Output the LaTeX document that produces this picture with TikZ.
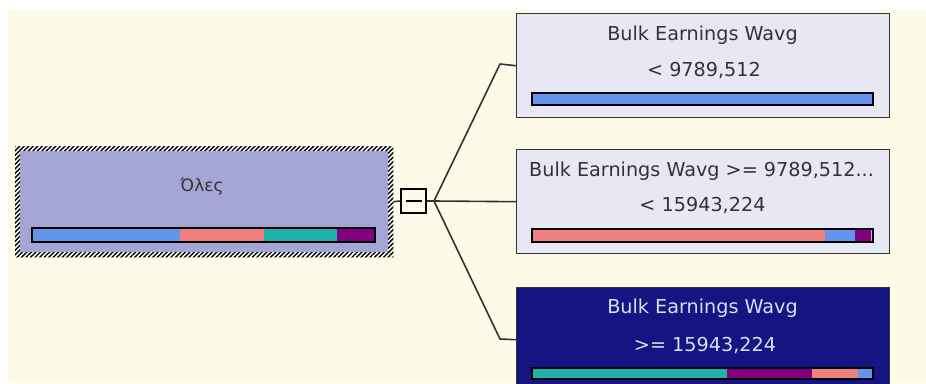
\documentclass[tikz,border=0pt]{standalone}
\usepackage{fontspec}
\setmainfont{DejaVu Sans}
\usetikzlibrary{patterns.meta}
\definecolor{cream}{HTML}{FDFAE8}
\definecolor{lightfill}{HTML}{E8E8F4}
\definecolor{rootfill}{HTML}{A5A5D5}
\definecolor{darkfill}{HTML}{141482}
\definecolor{txtgray}{HTML}{333333}
\definecolor{txtlight}{HTML}{DCDCF0}
\definecolor{cblue}{HTML}{6495ED}
\definecolor{csalmon}{HTML}{F08080}
\definecolor{cteal}{HTML}{20B2AA}
\definecolor{cpurple}{HTML}{800080}
\definecolor{edgegray}{HTML}{333333}
\tikzset{
  boxbase/.style={anchor=north west, inner sep=0pt, minimum width=373pt, minimum height=104pt},
  lbox/.style={boxbase, draw=edgegray, line width=1.4pt, fill=lightfill},
  dbox/.style={boxbase, draw=edgegray, line width=1.4pt, fill=darkfill},
  lbl/.style={anchor=base, inner sep=0pt, text=txtgray, font=\fontsize{19.2}{23}\selectfont},
  dlbl/.style={lbl, text=txtlight},
  conn/.style={draw=edgegray, line width=1.6pt, line join=round},
  barframe/.style={draw=black, line width=1.4pt},
}
\begin{document}
\begin{tikzpicture}[x=1pt,y=-1pt]
\clip (0,0) rectangle (926,383);
\fill[white] (0,0) rectangle (926,383);
\fill[cream] (8,10) rectangle (926,383);

% root node
\node[anchor=north west, inner sep=0pt, minimum width=378pt, minimum height=111pt, fill=rootfill] (root) at (15,146) {};
\fill[white, even odd rule] (root.north west) rectangle (root.south east) (20,151) rectangle (388,252);
\fill[pattern={Lines[angle=45,distance=3.2pt,line width=1.4pt]}, pattern color=black, even odd rule]
  (root.north west) rectangle (root.south east) (20,151) rectangle (388,252);
\node[lbl, font=\fontsize{17}{20}\selectfont] (roottxt) at (202,191) {Όλες};
\fill[cblue] (32,228) rectangle (180,242);
\fill[csalmon] (180,228) rectangle (264,242);
\fill[cteal] (264,228) rectangle (337,242);
\fill[cpurple] (337,228) rectangle (375,242);
\draw[barframe] (32,228) rectangle (375,242);

% expander
\node[anchor=center, inner sep=0pt, minimum width=25pt, minimum height=24pt, draw=black, line width=1.2pt, fill=cream] (exp) at (413.5,201) {};
\draw[black, line width=1.2pt] ([xshift=-8pt]exp.center) -- ([xshift=8pt]exp.center);
\coordinate (fan) at (434,201);
\coordinate (k1) at (500,64);
\coordinate (k3) at (500,339);

% child boxes
\node[lbox] (b1) at (516,13) {};
\node[lbox] (b2) at (516,149) {};
\node[dbox] (b3) at (516,287) {};

% connectors
\draw[conn] (root.east) -- (exp.west);
\draw[conn] (exp.east) -- (fan);
\draw[conn] (fan) -- (k1) -- (b1.west);
\draw[conn] (fan) -- (b2.west);
\draw[conn] (fan) -- (k3) -- (b3.west);

% box 1
\node[lbl] (b1t1) at (702.5,40) {Bulk Earnings Wavg};
\node[lbl] (b1t2) at (704,76.5) {< 9789,512};
\fill[cblue] (532,93) rectangle (873,105);
\draw[barframe] (532,93) rectangle (873,105);

% box 2
\node[lbl] (b2t1) at (701.5,176) {Bulk Earnings Wavg >= 9789,512...};
\node[lbl] (b2t2) at (702.5,211.5) {< 15943,224};
\fill[csalmon] (532,229) rectangle (825,242);
\fill[cblue] (825,229) rectangle (855,242);
\fill[cpurple] (855,229) rectangle (871,242);
\fill[cblue!50!cpurple!40] (871,229) rectangle (873,242);
\draw[barframe] (532,229) rectangle (873,242);

% box 3
\node[dlbl] (b3t1) at (702.5,313.5) {Bulk Earnings Wavg};
\node[dlbl] (b3t2) at (705,351) {>= 15943,224};
\fill[cteal] (532,368) rectangle (727,379);
\fill[cpurple] (727,368) rectangle (812,379);
\fill[csalmon] (812,368) rectangle (858,379);
\fill[cblue] (858,368) rectangle (873,379);
\draw[barframe] (532,368) rectangle (873,379);
\end{tikzpicture}
\end{document}
